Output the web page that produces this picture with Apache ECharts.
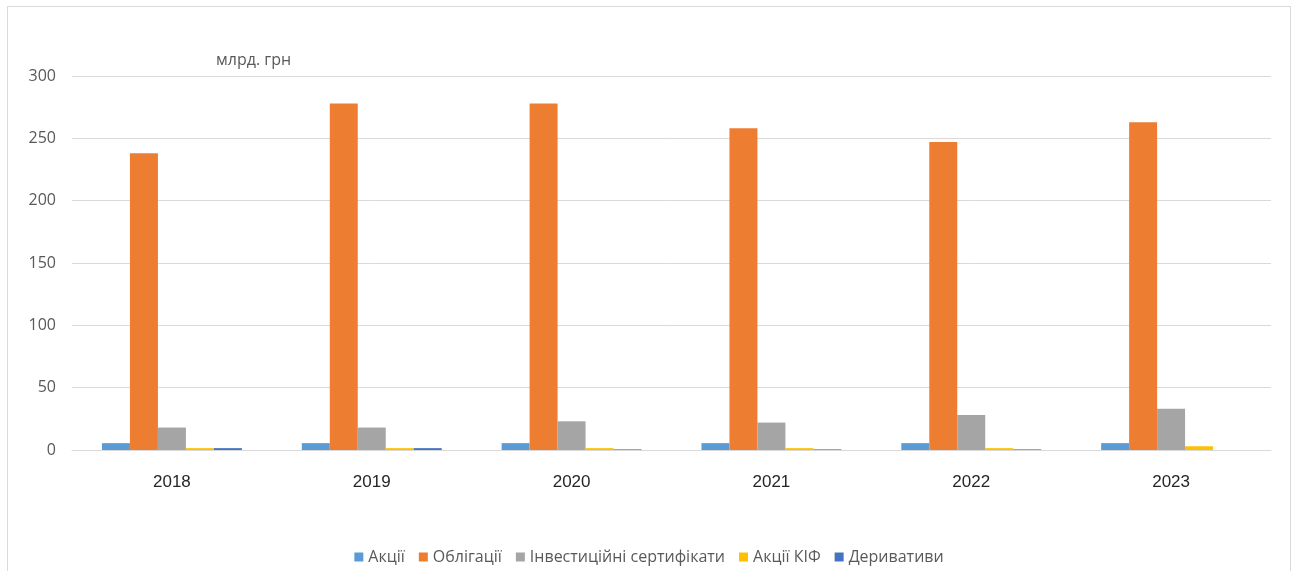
<!DOCTYPE html>
<html>
<head>
<meta charset="utf-8">
<script src="https://cdn.jsdelivr.net/npm/echarts@6/dist/echarts.min.js"></script>
<style>
html,body{margin:0;padding:0;background:#fff;}
#frame{position:absolute;left:7px;top:6px;width:1284px;height:580px;border:1px solid #d9d9d9;border-bottom:none;box-sizing:border-box;}
#chart{position:absolute;left:0;top:0;width:1298px;height:571px;}
</style>
</head>
<body>
<div id="frame"></div>
<div id="chart"></div>
<script>
const categories = ['2018','2019','2020','2021','2022','2023'];
const seriesNames = ['Акції','Облігації','Інвестиційні сертифікати','Акції КІФ','Деривативи'];
const akcii = [5.5, 5.5, 5.5, 5.5, 5.5, 5.5];
const oblihacii = [238, 278, 278, 258, 247, 263];
const invSert = [18, 18, 23, 22, 28, 33];
const akciiKIF = [1.5, 1.5, 1.5, 1.5, 1.5, 3];
const deryvatyvy = [1.5, 1.5, 0.5, 0.5, 0.5, 0];
const colors = ['#5b9bd5','#ed7d31','#a5a5a5','#ffc000','#4472c4'];
const unitLabel = 'млрд. грн';

const dataSets = [akcii, oblihacii, invSert, akciiKIF, deryvatyvy];
const chart = echarts.init(document.getElementById('chart'));
const font = '"Open Sans", "Noto Sans", sans-serif';
const font2 = '"Liberation Sans", Arial, sans-serif';
chart.setOption({
  animation: false,
  color: colors,
  textStyle: {fontFamily: font},
  title: {text: unitLabel, left: 211, top: 47, textStyle: {fontSize: 16, fontWeight: 'normal', color: '#595959', fontFamily: font}},
  grid: {left: 72, right: 27, top: 76, bottom: 121, containLabel: false},
  legend: {
    bottom: 1, left: 'center', itemWidth: 9, itemHeight: 9, itemGap: 14,
    icon: 'rect',
    textStyle: {fontSize: 16, color: '#595959', fontFamily: font},
    data: seriesNames
  },
  xAxis: {
    type: 'category', data: categories,
    axisLine: {lineStyle: {color: '#d9d9d9', width: 1}},
    axisTick: {show: false},
    axisLabel: {fontSize: 17, color: '#262626', margin: 24, fontFamily: font2}
  },
  yAxis: {
    type: 'value', min: 0, max: 300, interval: 50,
    axisLine: {show: false}, axisTick: {show: false},
    splitLine: {lineStyle: {color: '#d9d9d9', width: 1}},
    axisLabel: {fontSize: 16, color: '#595959', margin: 16, fontFamily: font}
  },
  series: seriesNames.map((n, i) => ({
    name: n, type: 'bar', data: dataSets[i],
    barGap: '0%', barCategoryGap: '30%'
  }))
});
</script>
</body>
</html>
